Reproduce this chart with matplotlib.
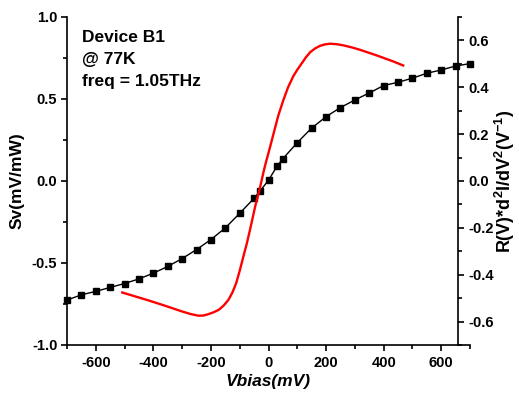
import matplotlib
matplotlib.use('Agg')
import matplotlib.pyplot as plt
from matplotlib.ticker import MultipleLocator

plt.rcParams['font.family'] = ['Liberation Sans', 'DejaVu Sans']
plt.rcParams['font.weight'] = 'bold'
plt.rcParams['axes.unicode_minus'] = False
plt.rcParams['mathtext.fontset'] = 'custom'
plt.rcParams['mathtext.rm'] = 'Liberation Sans:bold'
plt.rcParams['mathtext.bf'] = 'Liberation Sans:bold'
plt.rcParams['mathtext.default'] = 'bf'

# Sv vs Vbias (left axis)
vbias = [-700, -650, -600, -550, -500, -450, -400, -350, -300, -250, -200, -150,
         -100, -50, -30, 0, 30, 50, 100, 150, 200, 250, 300, 350, 400, 450, 500,
         550, 600, 650, 700]
sv = [-0.726, -0.694, -0.673, -0.649, -0.625, -0.597, -0.562, -0.521, -0.473,
      -0.418, -0.357, -0.286, -0.197, -0.105, -0.063, 0.005, 0.091, 0.136, 0.234,
      0.323, 0.392, 0.448, 0.494, 0.537, 0.582, 0.602, 0.627, 0.657, 0.677, 0.701,
      0.716]

# R(V)*d2I/dV2 (right axis)
v_r = [-508, -462, -416, -358, -300, -270, -243, -225, -208, -190, -173, -156,
       -139, -125, -112, -100, -87, -75, -64, -46, -31, -17, -10, 5, 20, 34, 51,
       68, 86, 100, 116, 130, 145, 162, 179, 196, 214, 237, 260, 290, 318, 347,
       376, 405, 434, 468]
r_curv = [-0.476, -0.493, -0.510, -0.533, -0.557, -0.568, -0.575, -0.574, -0.568,
          -0.560, -0.550, -0.532, -0.507, -0.475, -0.435, -0.383, -0.321, -0.265,
          -0.207, -0.107, -0.036, 0.040, 0.075, 0.143, 0.214, 0.279, 0.343, 0.400,
          0.447, 0.475, 0.503, 0.528, 0.550, 0.566, 0.577, 0.583, 0.586, 0.584,
          0.579, 0.570, 0.560, 0.548, 0.536, 0.523, 0.510, 0.493]

fig = plt.figure(figsize=(5.19, 3.99), dpi=100)
W, H = 519, 399
ax = fig.add_axes([67 / W, (H - 345) / H, (470 - 67) / W, (345 - 17) / H])

ax.plot(vbias, sv, color='black', lw=1.0, marker='s', ms=4.6, clip_on=False, zorder=3)
ax.set_xlim(-700, 700)
ax.set_ylim(-1, 1)
ax.spines['top'].set_visible(False)
ax.spines['right'].set_visible(False)
for s in ['left', 'bottom']:
    ax.spines[s].set_linewidth(1.2)
ax.xaxis.set_major_locator(MultipleLocator(200))
ax.xaxis.set_minor_locator(MultipleLocator(100))
ax.yaxis.set_major_locator(MultipleLocator(0.5))
ax.yaxis.set_minor_locator(MultipleLocator(0.25))
ax.tick_params(which='major', direction='out', length=4.5, width=1.2, labelsize=10.5, pad=2.5)
ax.tick_params(which='minor', direction='out', length=3, width=1.2)
ax.tick_params(axis='x', which='major', pad=3.5)
ax.set_xlabel('Vbias(mV)', fontsize=12.5, fontweight='bold', style='italic', labelpad=3)
ax.set_ylabel('Sv(mV/mW)', fontsize=12.5, fontweight='bold', labelpad=5)
ax.yaxis.set_major_formatter(plt.FuncFormatter(lambda v, p: f'{v:.1f}'))

ax.text(82 / W, 1 - 30 / H, 'Device B1\n@ 77K\nfreq = 1.05THz', transform=fig.transFigure,
        fontsize=12.5, fontweight='bold', va='top', ha='left', linespacing=1.6)

ax2 = ax.twinx()
ax2.plot(v_r, r_curv, color='#ff0000', lw=1.7, zorder=2)
ax2.set_ylim(-0.7, 0.7)
for s in ['top', 'left', 'bottom']:
    ax2.spines[s].set_visible(False)
ax2.spines['right'].set_position(('data', 660))
ax2.spines['right'].set_linewidth(1.2)
ax2.yaxis.set_major_locator(MultipleLocator(0.2))
ax2.yaxis.set_minor_locator(MultipleLocator(0.1))
ax2.tick_params(which='major', direction='out', length=4.5, width=1.2, labelsize=10.5, pad=2.5)
ax2.tick_params(which='minor', direction='out', length=3, width=1.2)
ax2.yaxis.set_major_formatter(plt.FuncFormatter(lambda v, p: f'{v:.1f}'))
fig.text(505 / W, 1 - 181 / H, r'R(V)*d$^{2}$I/dV$^{2}$(V$^{-1}$)', rotation=90,
         fontsize=13, fontweight='bold', va='center', ha='center')

fig.savefig('out.png', dpi=100)
